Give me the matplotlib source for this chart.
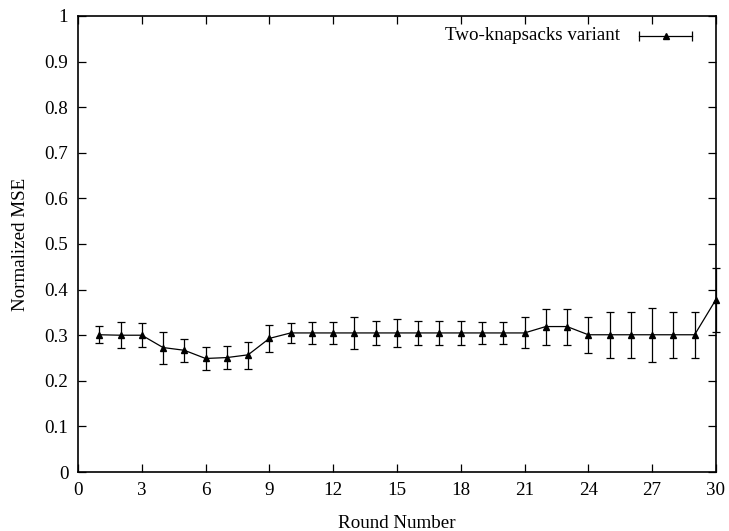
import numpy as np
import matplotlib.pyplot as plt

plt.rcParams['font.family'] = ['Liberation Serif', 'DejaVu Serif']

# Normalized MSE per round, with the lower/upper ends of each error bar
rounds = np.arange(1, 31)
mse = [0.301, 0.300, 0.300, 0.273, 0.267, 0.249, 0.251, 0.257, 0.293, 0.305,
       0.305, 0.305, 0.305, 0.305, 0.305, 0.305, 0.305, 0.305, 0.305, 0.305,
       0.305, 0.319, 0.319, 0.301, 0.301, 0.301, 0.301, 0.301, 0.301, 0.378]
mse_low = [0.282, 0.271, 0.275, 0.238, 0.242, 0.223, 0.227, 0.227, 0.264, 0.282,
           0.280, 0.280, 0.269, 0.278, 0.275, 0.278, 0.278, 0.278, 0.281, 0.281,
           0.271, 0.278, 0.278, 0.261, 0.251, 0.251, 0.241, 0.251, 0.251, 0.308]
mse_high = [0.321, 0.330, 0.327, 0.308, 0.292, 0.275, 0.277, 0.286, 0.323, 0.327,
            0.330, 0.330, 0.341, 0.332, 0.335, 0.332, 0.332, 0.332, 0.329, 0.330,
            0.340, 0.358, 0.358, 0.341, 0.352, 0.352, 0.360, 0.352, 0.352, 0.447]

x_ticks = np.arange(0, 31, 3)
y_ticks = np.round(np.arange(0, 1.01, 0.1), 1)
y_labels = ['0'] + [f'{v:g}' for v in y_ticks[1:-1]] + ['1']

mse = np.array(mse)
yerr = np.vstack([mse - np.array(mse_low), np.array(mse_high) - mse])

fs = 13.7

fig = plt.figure(figsize=(7.29, 5.31), dpi=100)
ax = fig.add_axes([0.107, 0.111, 0.875, 0.859])

eb = ax.errorbar(rounds, mse, yerr=yerr, color='black', lw=0.9, elinewidth=0.9,
                 capsize=3, capthick=0.9, marker='^', ms=5, zorder=3)
# let the last bar sit on the right border instead of being cut in half
for art in eb.lines[1] + eb.lines[2]:
    art.set_clip_on(False)
eb.lines[0].set_clip_on(False)

ax.set_xlim(0, 30)
ax.set_ylim(0, 1)
ax.set_xticks(x_ticks)
ax.set_yticks(y_ticks)
ax.set_yticklabels(y_labels)
ax.tick_params(direction='in', length=6, width=0.9, top=True, right=True,
               labelsize=fs, pad=7)
for s in ax.spines.values():
    s.set_linewidth(1.2)

ax.set_xlabel('Round Number', fontsize=fs, labelpad=12)
ax.set_ylabel('Normalized MSE', fontsize=fs, labelpad=11)

# key in the top right corner, gnuplot style
ax.text(0.849, 0.957, 'Two-knapsacks variant', transform=ax.transAxes,
        ha='right', va='center', fontsize=fs)
ax.plot([0.880, 0.963], [0.957, 0.957], transform=ax.transAxes,
        color='black', lw=0.9)
ax.plot([0.880, 0.963], [0.957, 0.957], transform=ax.transAxes,
        color='black', ls='none', marker='|', ms=7, mew=0.9)
ax.plot([0.9215], [0.957], transform=ax.transAxes,
        color='black', marker='^', ms=5)

fig.savefig('out.png', dpi=100)
